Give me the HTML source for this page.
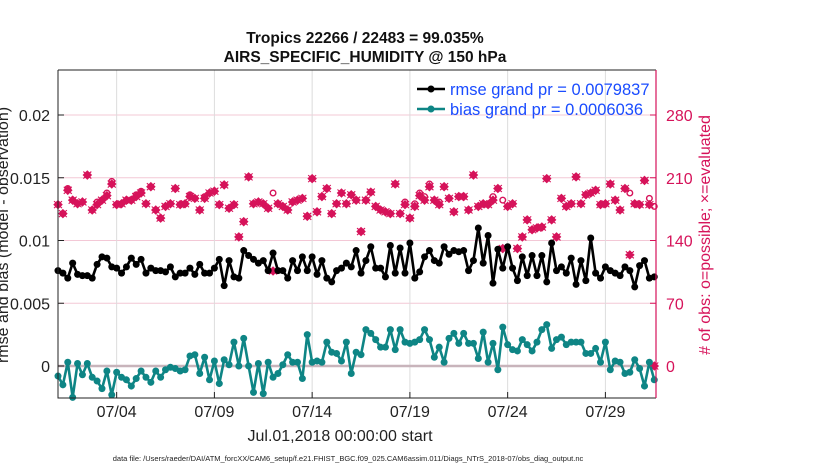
<!DOCTYPE html>
<html><head><meta charset="utf-8"><style>
body{margin:0;background:#fff;}
svg{display:block;font-family:"Liberation Sans",Arial,sans-serif;}
</style></head><body>
<svg id="chart" width="830" height="470" viewBox="0 0 830 470">
<g id="grid"></g><g id="marks"></g><g id="axes"></g>
</svg>
<script>
const tickDays=[4,9,14,19,24,29];
const tickLabels=["07/04","07/09","07/14","07/19","07/24","07/29"];
const leftTicks=[0,0.005,0.01,0.015,0.02];
const leftTickLabels=["0","0.005","0.01","0.015","0.02"];
const rightTicks=[0,70,140,210,280];
const rmse=[7.6,7.4,7.0,8.2,7.3,7.2,7.2,7.0,8.1,8.7,8.6,7.9,7.8,7.4,7.9,8.6,8.1,8.5,7.4,7.8,7.6,7.6,7.5,7.9,7.1,7.4,7.4,7.8,7.3,8.1,7.4,7.4,7.8,8.5,6.4,8.4,7.1,7.0,9.2,8.8,8.5,8.2,
8.4,7.6,9.0,7.6,7.6,7.0,8.4,7.6,8.7,7.6,8.7,7.3,8.4,7.0,6.7,7.6,7.8,8.2,7.9,9.2,7.4,8.4,9.5,7.8,7.8,7.1,9.6,7.4,9.4,7.4,9.8,7.0,7.5,8.7,9.2,8.4,8.2,9.5,8.9,9.2,9.1,
9.2,7.6,8.4,11.0,8.2,10.4,6.6,9.3,7.8,9.5,7.8,6.8,8.7,7.2,8.8,7.2,8.8,6.7,9.8,7.6,7.9,7.4,8.6,6.5,8.4,6.8,10.2,7.4,7.0,7.9,7.6,7.4,7.2,7.9,7.6,6.3,8.0,8.4,7.0,7.1];
const bias=[-0.8,-1.5,0.3,-2.5,0.2,-0.7,0.2,-0.9,-1.2,-1.8,-0.4,-2.3,-0.5,-0.9,-1.1,-1.6,-1.0,-0.4,-0.9,-1.3,-0.4,-0.9,-0.3,-0.1,-0.2,-0.4,-0.3,0.8,0.9,-0.6,0.7,-1.1,0.4,-1.4,0.5,0.1,1.9,0.0,2.2,0.0,-2.1,0.2,
-2.2,0.3,-0.9,-0.6,0.1,0.9,0.3,0.3,-1.0,2.5,0.3,0.4,0.3,1.9,1.1,1.0,0.4,1.9,-0.6,1.1,0.9,2.9,2.6,2.1,1.5,1.5,2.9,1.3,2.9,1.9,1.8,1.9,2.1,2.9,2.1,0.7,1.5,0.3,2.2,2.6,1.8,
2.6,1.8,1.8,0.6,2.7,0.3,1.8,-0.3,3.1,1.7,1.3,1.2,2.1,1.7,1.2,1.9,2.9,3.3,1.4,2.1,2.3,1.7,1.9,1.9,1.9,1.0,1.0,1.4,0.3,1.9,-0.3,0.4,0.3,-0.6,-0.5,0.5,-0.2,-1.6,0.3,-1.1];
const possible=[180,170,198,185,181,183,213,174,183,185,193,206,180,181,185,185,191,195,181,200,174,165,178,181,198,180,181,191,187,174,189,193,195,180,202,176,180,144,161,211,181,183,
181,176,193,181,178,174,183,185,187,167,209,172,189,198,170,181,193,181,191,185,150,185,194,178,174,172,170,203,170,183,165,181,193,189,203,185,183,200,187,172,189,
189,174,213,178,181,180,189,198,185,178,181,131,144,163,152,154,155,209,163,144,187,178,181,211,181,191,193,196,180,181,203,185,174,198,193,181,180,207,187,178];
const evaluated=[180,170,196,185,181,183,213,174,180,185,190,203,180,181,185,185,189,193,181,200,174,165,178,181,198,180,181,189,187,174,187,193,195,180,202,176,180,144,161,211,181,183,
181,176,106,181,178,174,183,185,187,167,209,172,189,198,170,181,193,181,191,185,150,185,194,178,174,172,170,203,170,180,165,178,190,185,200,185,180,200,187,172,189,
189,174,213,178,181,180,185,198,131,178,181,131,144,163,152,154,155,209,163,144,187,178,181,211,181,191,193,196,180,181,203,185,174,198,124,181,180,207,180,0];
const L=58,R=656,T=70,B=398;
const xs=d=>L+(d-1)*19.55;
const yl=v=>366-v/0.005*62.75;
const yr=v=>366-v/70*62.75;
const NS="http://www.w3.org/2000/svg";
function mk(tag,attrs,parent){const e=document.createElementNS(NS,tag);for(const k in attrs)e.setAttribute(k,attrs[k]);parent.appendChild(e);return e;}
const grid=document.getElementById('grid'),marks=document.getElementById('marks'),axes=document.getElementById('axes');
leftTicks.forEach((v,i)=>{if(v===0)return;const g=mk('line',{x1:L,x2:R,y1:yl(v),y2:yl(v),stroke:'#f3c8d6','stroke-width':1},grid);

});
tickDays.forEach(d=>{const g=mk('line',{x1:xs(d),x2:xs(d),y1:T,y2:B,stroke:'#dcdcdc','stroke-width':1},grid);

});
const z=mk('line',{x1:L,x2:R,y1:yl(0),y2:yl(0),stroke:'#c8b4bb','stroke-width':2.5},grid);


possible.forEach((v,i)=>{const c=mk('circle',{cx:xs(1+i*0.25),cy:yr(v),r:2.8,fill:'none',stroke:'#d6135a','stroke-width':1.4},marks);

});
evaluated.forEach((v,i)=>{const x=xs(1+i*0.25),y=yr(v);
const p=mk('path',{d:`M${x-4},${y}L${x},${y-4}L${x+4},${y}L${x},${y+4}Z M${x-4},${y-3.5}L${x+4},${y+3.5}M${x-4},${y+3.5}L${x+4},${y-3.5}`,fill:'#d6135a',stroke:'#d6135a','stroke-width':1.1},marks);

});
function series(arr,color,name){
const pts=arr.map((v,i)=>[xs(1+i*0.25),yl(v/1000)]);
const pl=mk('polyline',{points:pts.map(p=>p.join(',')).join(' '),fill:'none',stroke:color,'stroke-width':2.6,'stroke-linejoin':'round'},marks);


pts.forEach(p=>{const c=mk('circle',{cx:p[0],cy:p[1],r:3.5,fill:color},marks);

});}
series(rmse,'#000','rmse');
series(bias,'#0e8585','bias');
const box=mk('path',{d:`M${L},${T}H${R}M${L},${T}V${B}H${R}`,fill:'none',stroke:'#222','stroke-width':1},axes);


const ra=mk('line',{x1:R,x2:R,y1:T,y2:B,stroke:'#d6135a','stroke-width':1.2},axes);


leftTicks.forEach((v,i)=>{mk('line',{x1:L,x2:L+6,y1:yl(v),y2:yl(v),stroke:'#222'},axes);
const t=mk('text',{x:L-8,y:yl(v)+6,'text-anchor':'end','font-size':16,fill:'#222'},axes);t.textContent=leftTickLabels[i];

});
rightTicks.forEach(v=>{mk('line',{x1:R-6,x2:R,y1:yr(v),y2:yr(v),stroke:'#d6135a'},axes);
const t=mk('text',{x:R+10,y:yr(v)+6,'font-size':16,fill:'#d6135a'},axes);t.textContent=String(v);

});
tickDays.forEach((d,i)=>{mk('line',{x1:xs(d),x2:xs(d),y1:B,y2:B-6,stroke:'#222'},axes);
const t=mk('text',{x:xs(d),y:B+19,'text-anchor':'middle','font-size':16,fill:'#222'},axes);t.textContent=tickLabels[i];

});
</script>
<div style="position:absolute;left:0;top:0;width:830px;height:470px;pointer-events:none">
<svg width="830" height="470" style="font-family:'Liberation Sans',Arial,sans-serif">
<text x="365" y="43" text-anchor="middle" font-size="15.5" font-weight="bold" fill="#111">Tropics 22266 / 22483 = 99.035%</text>
<text x="365" y="62" text-anchor="middle" font-size="15.5" font-weight="bold" fill="#111">AIRS_SPECIFIC_HUMIDITY @ 150 hPa</text>
<text x="340" y="441" text-anchor="middle" font-size="16" fill="#222">Jul.01,2018 00:00:00 start</text>
<text x="348" y="461" text-anchor="middle" font-size="7.5" fill="#222">data file: /Users/raeder/DAI/ATM_forcXX/CAM6_setup/f.e21.FHIST_BGC.f09_025.CAM6assim.011/Diags_NTrS_2018-07/obs_diag_output.nc</text>
<text transform="translate(8,235) rotate(-90)" text-anchor="middle" font-size="16" fill="#222">rmse and bias (model - observation)</text>
<text transform="translate(710,235) rotate(-90)" text-anchor="middle" font-size="16" fill="#d6135a"># of obs: o=possible; ×=evaluated</text>
<g>
<line x1="417" y1="89" x2="445" y2="89" stroke="#000" stroke-width="2.5"/><circle cx="431" cy="89" r="3.5" fill="#000"/>
<text x="450" y="95" font-size="16.5" fill="#1a4cff">rmse grand pr = 0.0079837</text>
<line x1="417" y1="109" x2="445" y2="109" stroke="#0e8585" stroke-width="2.5"/><circle cx="431" cy="109" r="3.5" fill="#0e8585"/>
<text x="450" y="115" font-size="16.5" fill="#1a4cff">bias grand pr = 0.0006036</text>
</g>
</svg></div>
</body></html>
